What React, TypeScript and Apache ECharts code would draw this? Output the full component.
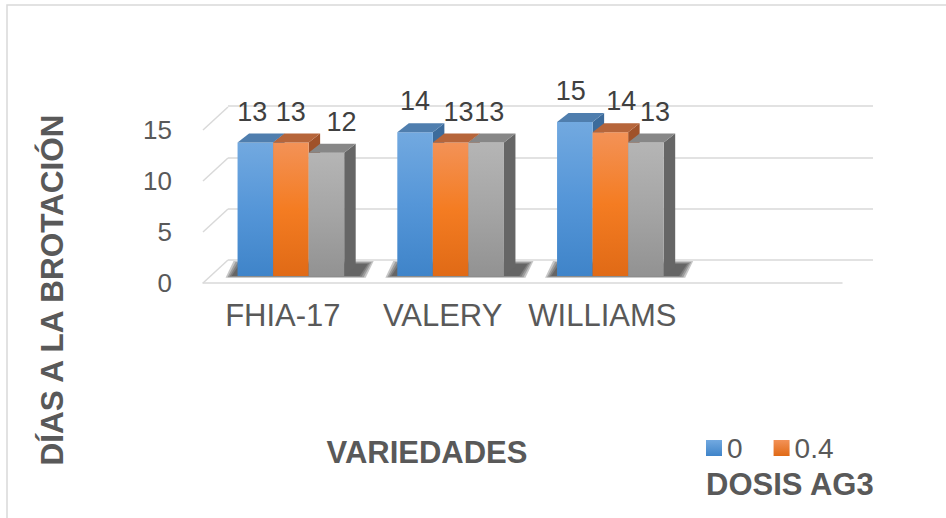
import React, { useEffect, useRef } from "react";
import * as echarts from "echarts";

const categories = ["FHIA-17", "VALERY", "WILLIAMS", ""];
const seriesNames = ["0", "0.4", "Serie 3"];
const dose0 = [13, 14, 15];
const dose04 = [13, 13, 14];
const dose3 = [12, 13, 13];
const yTicks = [0, 5, 10, 15];

// horizontal nudges of the data labels (layout only), per series then category
const labelNudge = [
  [-3, 0, -4],
  [0, 8, 11],
  [15, 3, 9],
];

const FONT = '"Liberation Sans", Arial, sans-serif';

const palettes = [
  { front: ["#72a9e0", "#5596d8", "#3f84c9"], top: "#4f7eae", side: "#3c6b9b" },
  { front: ["#f39257", "#f47c22", "#e06a16"], top: "#b6653a", side: "#a0522a" },
  { front: ["#b5b5b5", "#a5a5a5", "#929292"], top: "#878787", side: "#666666" },
];

const DX = 11.5;
const DY = 9;

function barRender(si: number) {
  const pal = palettes[si];
  return (params: any, api: any) => {
    const cat = api.value(0);
    const val = api.value(1);
    const catW = api.size([1, 0])[0];
    const bw = catW * 0.2225;
    const base = api.coord([cat, 0]);
    const top = api.coord([cat, val]);
    const x0 = base[0] - 1.5 * bw + si * bw;
    const yt = top[1];
    const yb = base[1];
    const grad = new echarts.graphic.LinearGradient(0, 0, 0, 1, [
      { offset: 0, color: pal.front[0] },
      { offset: 0.5, color: pal.front[1] },
      { offset: 1, color: pal.front[2] },
    ]);
    const nudge = (labelNudge[si] && labelNudge[si][cat]) || 0;
    return {
      type: "group",
      children: [
        {
          type: "polygon",
          shape: { points: [[x0 + bw, yt], [x0 + bw + DX, yt - DY], [x0 + bw + DX, yb - DY], [x0 + bw, yb]] },
          style: { fill: pal.side },
        },
        {
          type: "rect",
          shape: { x: x0, y: yt, width: bw, height: yb - yt },
          style: { fill: grad },
        },
        {
          type: "polygon",
          shape: { points: [[x0, yt], [x0 + bw, yt], [x0 + bw + DX, yt - DY], [x0 + DX, yt - DY]] },
          style: { fill: pal.top },
        },
        {
          type: "text",
          z2: 100,
          style: {
            text: String(val),
            x: x0 + bw / 2 + nudge,
            y: yt - 31,
            align: "center",
            verticalAlign: "middle",
            textAlign: "center",
            textVerticalAlign: "middle",
            font: `27px ${FONT}`,
            fill: "#404040",
          },
        },
      ],
    };
  };
}

function shadowRender(params: any, api: any) {
  const cat = api.value(0);
  const catW = api.size([1, 0])[0];
  const bw = catW * 0.2225;
  const base = api.coord([cat, 0]);
  const x0 = base[0] - 1.5 * bw;
  const x1 = x0 + 3 * bw + DX;
  const yb = base[1];
  const layers = [6, 4, 2, 0];
  return {
    type: "group",
    children: layers.map((e) => ({
      type: "polygon",
      shape: {
        points: [
          [x0 - 6 - e, yb + e * 0.3],
          [x1 + 4 + e, yb + e * 0.3],
          [x1 + 12 + e, yb - DY - 3 - e * 0.5],
          [x0 + 2 - e, yb - DY - 3 - e * 0.5],
        ],
      },
      style: { fill: "rgba(30,30,30,0.25)" },
    })),
  };
}

function wallRender(params: any, api: any) {
  const v = api.value(0);
  const p = api.coord([0, v]);
  const cs = params.coordSys;
  const x = cs.x;
  return {
    type: "line",
    shape: { x1: x, y1: p[1], x2: x + 25, y2: p[1] - 23 },
    style: { stroke: "#d9d9d9", lineWidth: 1.5 },
  };
}

export default function App() {
  const ref = useRef<HTMLDivElement>(null);
  useEffect(() => {
    if (!ref.current) return;
    const chart = echarts.init(ref.current, undefined, { renderer: "svg" });
    const allData = [dose0, dose04, dose3];
    const option: any = {
      animation: false,
      backgroundColor: "#ffffff",
      grid: [
        { left: 203, right: 104, top: 130, bottom: 235 },
        { left: 211, right: 96, top: 122, bottom: 242 },
        { left: 228, right: 73, top: 106, bottom: 258 },
      ],
      xAxis: [
        {
          gridIndex: 0,
          type: "category",
          data: categories,
          axisLine: { show: true, lineStyle: { color: "#d9d9d9", width: 1.5 } },
          axisTick: { show: false },
          axisLabel: { color: "#595959", fontSize: 31, fontFamily: FONT, margin: 17, interval: 0 },
        },
        { gridIndex: 1, type: "category", data: categories, show: false },
        { gridIndex: 2, type: "category", data: categories, show: false },
      ],
      yAxis: [
        {
          gridIndex: 0,
          type: "value",
          min: 0,
          max: 15,
          interval: 5,
          axisLine: { show: false },
          axisTick: { show: false },
          splitLine: { show: false },
          axisLabel: { color: "#595959", fontSize: 26, fontFamily: FONT, margin: 31 },
        },
        { gridIndex: 1, type: "value", min: 0, max: 15, interval: 5, show: false, splitLine: { show: false } },
        {
          gridIndex: 2,
          type: "value",
          min: 0,
          max: 15,
          interval: 5,
          axisLine: { show: false },
          axisTick: { show: false },
          axisLabel: { show: false },
          splitLine: { show: true, lineStyle: { color: "#d9d9d9", width: 1.5 } },
        },
      ],
      legend: {
        data: ["0", "0.4"],
        left: 706,
        top: 434,
        padding: 0,
        itemWidth: 16,
        itemHeight: 16,
        itemGap: 31,
        icon: "rect",
        textStyle: { color: "#595959", fontSize: 28, fontFamily: FONT },
      },
      graphic: [
        {
          type: "rect",
          z: -10,
          shape: { x: 7, y: 5, width: 1000, height: 600 },
          style: { fill: "none", stroke: "#d9d9d9", lineWidth: 1.5 },
        },
        {
          type: "text",
          x: 52,
          y: 290,
          rotation: Math.PI / 2,
          style: {
            text: "DÍAS A LA BROTACIÓN",
            align: "center",
            verticalAlign: "middle",
            textAlign: "center",
            textVerticalAlign: "middle",
            font: `bold 31.5px ${FONT}`,
            fill: "#595959",
          },
        },
        {
          type: "text",
          x: 427,
          y: 452,
          style: {
            text: "VARIEDADES",
            align: "center",
            verticalAlign: "middle",
            textAlign: "center",
            textVerticalAlign: "middle",
            font: `bold 31px ${FONT}`,
            fill: "#595959",
          },
        },
        {
          type: "text",
          x: 706,
          y: 484,
          style: {
            text: "DOSIS AG3",
            align: "left",
            verticalAlign: "middle",
            textAlign: "left",
            textVerticalAlign: "middle",
            font: `bold 31px ${FONT}`,
            fill: "#595959",
          },
        },
      ],
      series: [
        {
          type: "custom",
          name: "wall",
          xAxisIndex: 0,
          yAxisIndex: 0,
          z: 1,
          silent: true,
          data: yTicks.map((v) => [v]),
          encode: { y: 0 },
          renderItem: wallRender,
        },
        {
          type: "custom",
          name: "shadow",
          xAxisIndex: 1,
          yAxisIndex: 1,
          z: 1,
          silent: true,
          data: dose0.map((_, i) => [i, 0]),
          renderItem: shadowRender,
        },
        ...allData.map((arr, si) => ({
          type: "custom",
          name: seriesNames[si],
          xAxisIndex: 1,
          yAxisIndex: 1,
          z: 2 + si,
          itemStyle: {
            color: new echarts.graphic.LinearGradient(0, 0, 0, 1, [
              { offset: 0, color: palettes[si].front[0] },
              { offset: 1, color: palettes[si].front[2] },
            ]),
          },
          data: arr.map((v, i) => [i, v]),
          encode: { x: 0, y: 1 },
          renderItem: barRender(si),
        })),
      ],
    };
    chart.setOption(option);
    return () => chart.dispose();
  }, []);
  return (
    <div
      ref={ref}
      style={{ position: "fixed", left: 0, top: 0, width: 946, height: 518, background: "#fff" }}
    />
  );
}
